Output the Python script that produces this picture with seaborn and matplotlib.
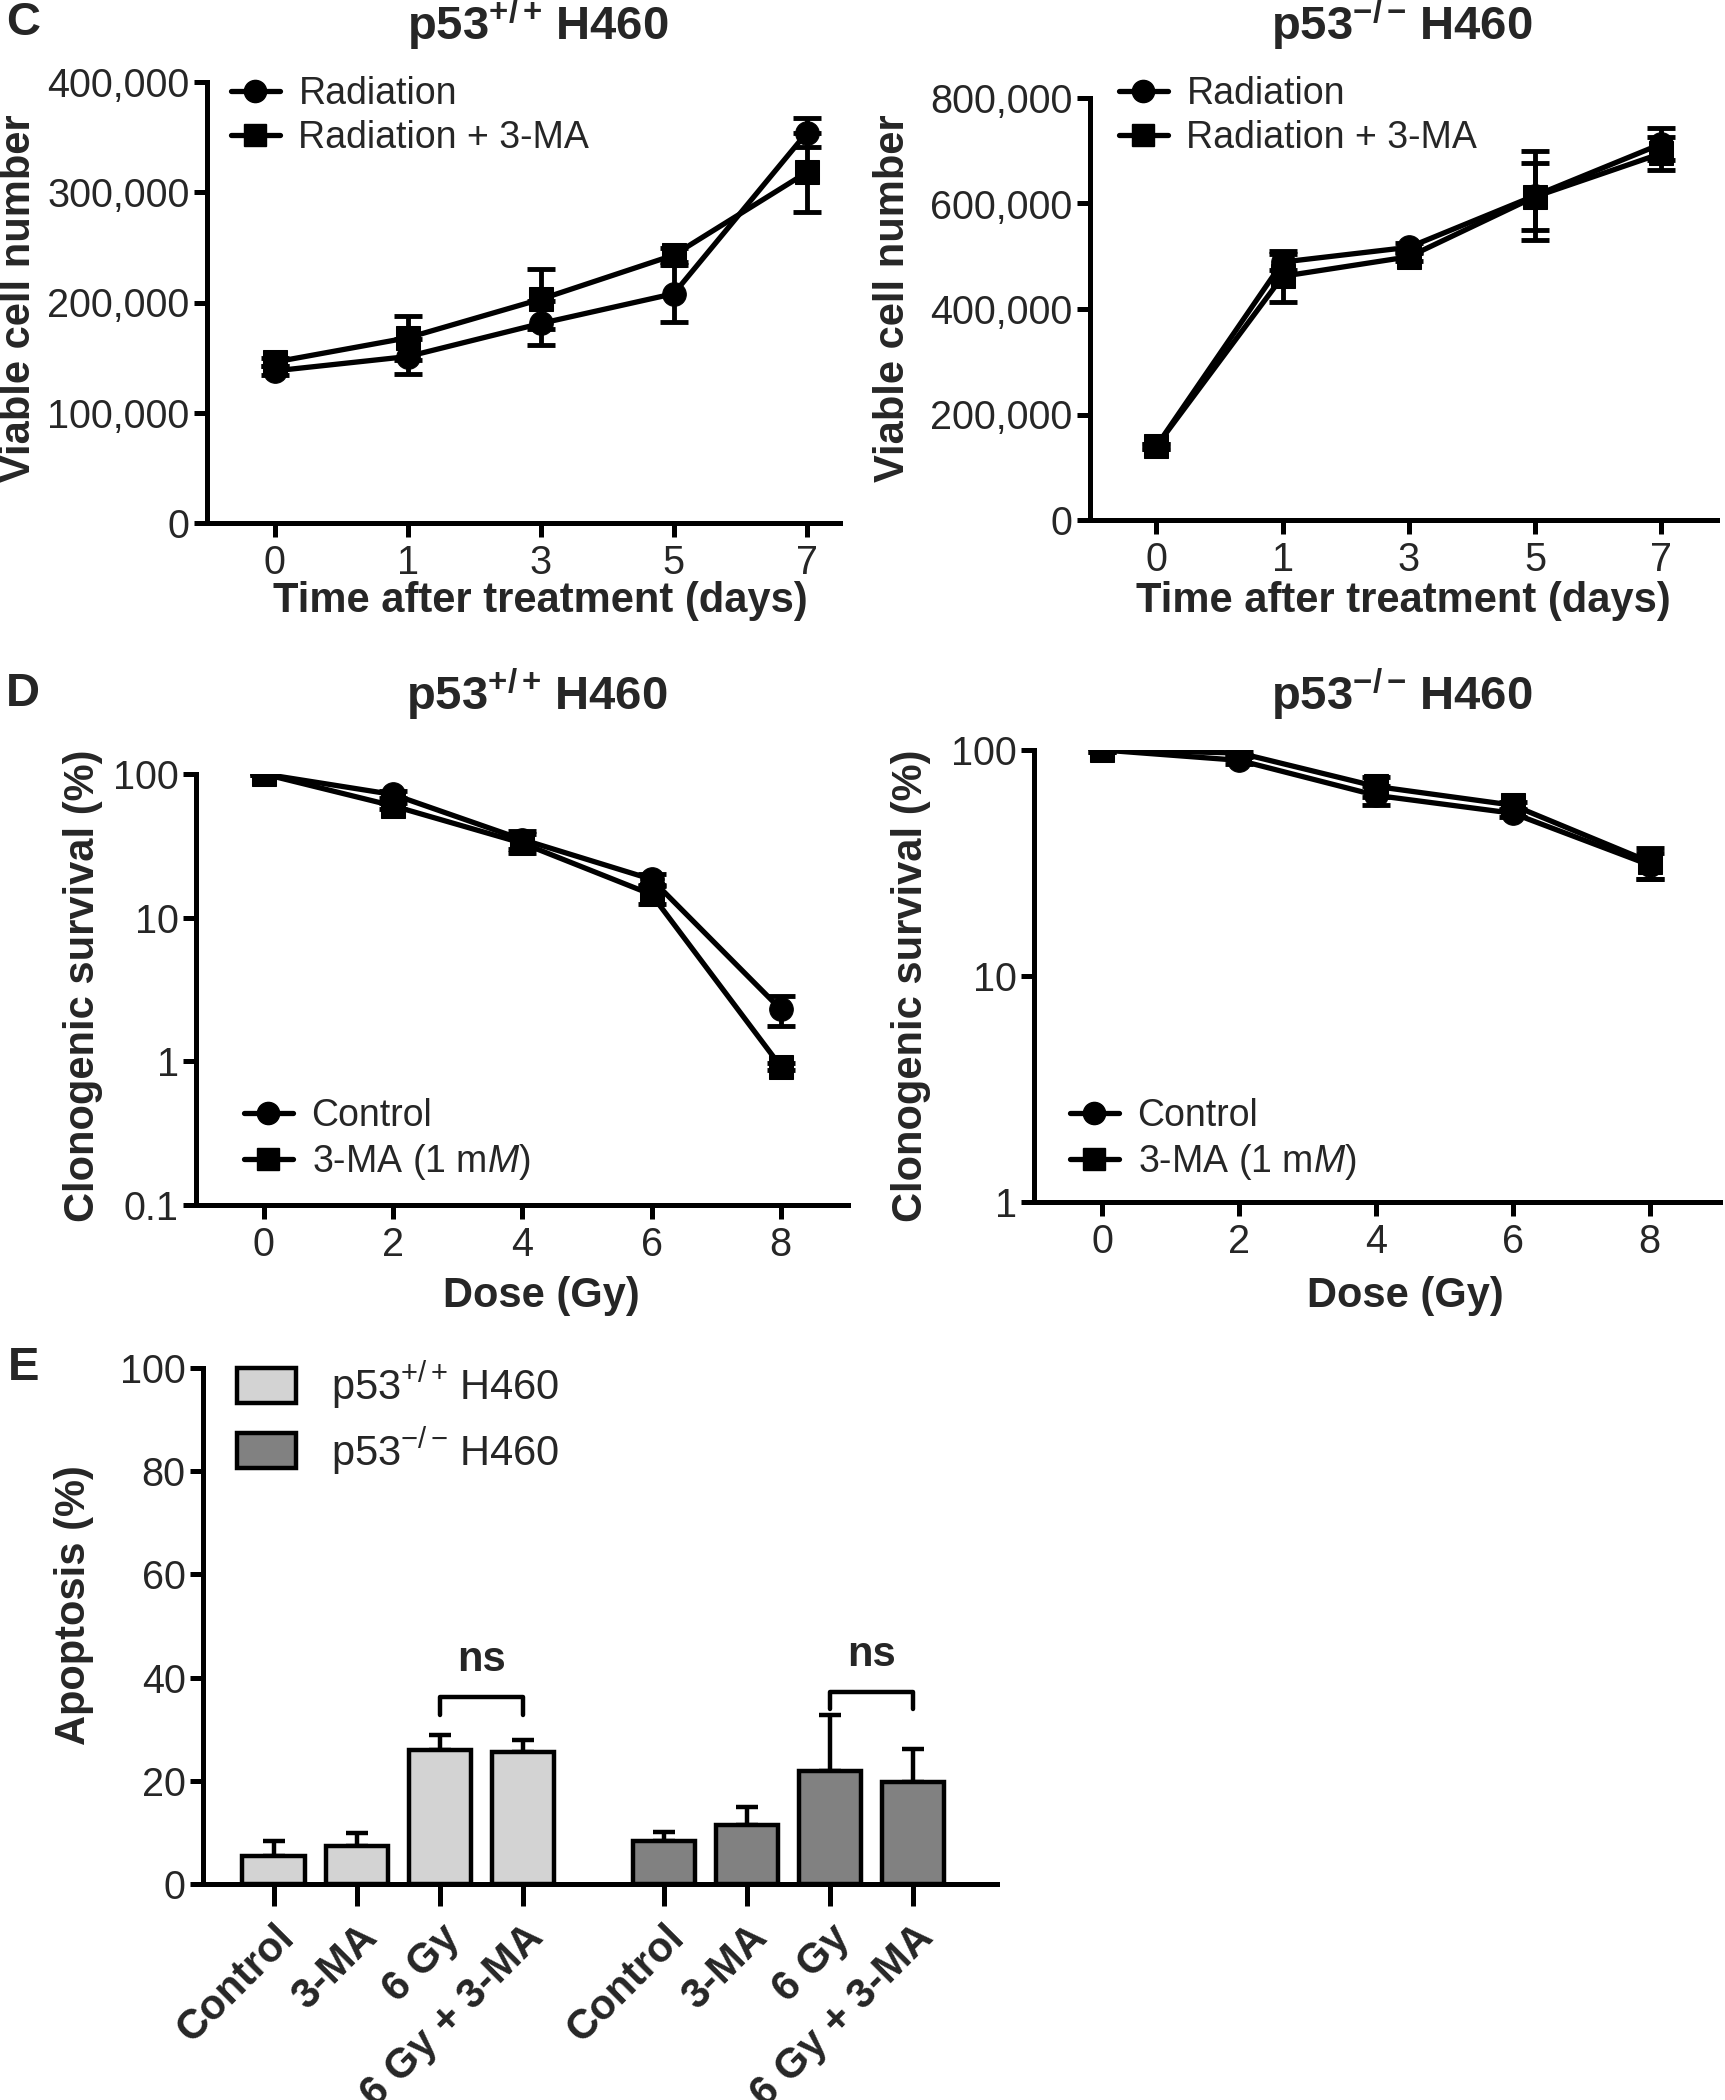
import matplotlib
matplotlib.use("Agg")
import matplotlib.pyplot as plt
from matplotlib.lines import Line2D
from matplotlib.patches import Patch
import pandas as pd
import seaborn as sns

# ── Data ──────────────────────────────────────────────────────────────────────
days = ["0", "1", "3", "5", "7"]
day_pos = [0, 1, 2, 3, 4]

c_wt_rad = [138000, 151000, 181000, 208000, 354000]
c_wt_rad_err = [4000, 16000, 20000, 26000, 13000]
c_wt_3ma = [146000, 168000, 203000, 243000, 318000]
c_wt_3ma_err = [4000, 20000, 27000, 6000, 36000]

c_ko_rad = [140000, 489000, 517000, 615000, 713000]
c_ko_rad_err = [5000, 15000, 8000, 85000, 31000]
c_ko_3ma = [140000, 462000, 499000, 613000, 695000]
c_ko_3ma_err = [5000, 48000, 8000, 63000, 32000]

dose = [0, 2, 4, 6, 8]
d_wt_ctrl = [100, 72, 35, 18.5, 2.3]
d_wt_ctrl_err = [2, 4, 5, 1.5, 0.55]
d_wt_3ma = [100, 60, 33, 14.5, 0.92]
d_wt_3ma_err = [2, 3, 5, 2, 0.05]

d_ko_ctrl = [100, 90, 63, 52.5, 31]
d_ko_ctrl_err = [2, 3, 6, 2, 4]
d_ko_3ma = [100, 97, 69, 57, 32]
d_ko_3ma_err = [2, 2, 7, 2, 5]

treatments = ["Control", "3-MA", "6 Gy", "6 Gy + 3-MA"]
e_wt_pos = [0, 1, 2, 3]
e_ko_pos = [4.7, 5.7, 6.7, 7.7]
e_wt = [5.5, 7.4, 25.9, 25.5]
e_wt_err = [2.9, 2.4, 3.0, 2.5]
e_ko = [8.3, 11.4, 21.9, 19.8]
e_ko_err = [1.7, 3.6, 10.8, 6.3]

# ns brackets: (x1, x2, top, leg bottom)
ns_brackets = [(2, 3, 36.3, 32.8), (6.7, 7.7, 37.3, 34.0)]

WT = r"p53$^{\mathbf{+/+}}\,$H460"
KO = r"p53$^{\mathbf{-/-}}\,$H460"
WT_R = r"p53$^{+/+}\,$H460"
KO_R = r"p53$^{-/-}\,$H460"

# ── Style ─────────────────────────────────────────────────────────────────────
sns.set_style("ticks")
plt.rcParams["font.family"] = ["Liberation Sans", "DejaVu Sans"]
plt.rcParams["mathtext.fontset"] = "custom"
plt.rcParams["mathtext.rm"] = "Liberation Sans"
plt.rcParams["mathtext.it"] = "Liberation Sans:italic"
plt.rcParams["mathtext.bf"] = "Liberation Sans:bold"
BOLD = dict(fontweight="bold")

W, H = 1725, 2100
fig = plt.figure(figsize=(W / 100, H / 100), dpi=100)


def add_ax(l, t, r, b):
    return fig.add_axes([l / W, 1 - b / H, (r - l) / W, (b - t) / H])


def style_ax(ax, xlen=10, ylen=9.5):
    sns.despine(ax=ax)
    for s in ["left", "bottom"]:
        ax.spines[s].set_linewidth(3.6)
        ax.spines[s].set_color("black")
    ax.tick_params(axis="x", length=xlen, width=3.6, labelsize=28.5, pad=5, color="black")
    ax.tick_params(axis="y", length=ylen, width=3.6, labelsize=28.5, pad=3, color="black")
    ax.minorticks_off()
    ax.set_facecolor("none")
    ax.set_xlabel("")
    ax.set_ylabel("")


def draw_series(ax, x, series):
    for y, err, mk in series:
        ax.errorbar(x, y, yerr=err, fmt="none", ecolor="black", elinewidth=3.5,
                    capsize=10, capthick=3.5, zorder=2)
        sns.lineplot(x=x, y=y, marker=mk, markersize=17, color="black", lw=3.8,
                     markeredgecolor="black", ax=ax, legend=False, zorder=3)


def line_legend(ax, labels, x, y):
    handles = [Line2D([0], [0], color="black", lw=3.8, marker=m, markersize=16)
               for m in ["o", "s"]]
    ax.legend(handles, labels, loc="upper left", bbox_to_anchor=(x / W, 1 - y / H),
              bbox_transform=fig.transFigure, frameon=False, fontsize=27,
              handlelength=1.3, handletextpad=0.5, labelspacing=0.22,
              borderpad=0, borderaxespad=0)


# ── Panel C ───────────────────────────────────────────────────────────────────
ax = add_ax(207, 82, 840, 523)
draw_series(ax, day_pos, [(c_wt_rad, c_wt_rad_err, "o"), (c_wt_3ma, c_wt_3ma_err, "s")])
ax.set_xlim(-0.51, 4.25)
ax.set_ylim(0, 400000)
ax.set_xticks(day_pos, days)
ax.set_yticks([0, 100000, 200000, 300000, 400000],
              ["0", "100,000", "200,000", "300,000", "400,000"])
style_ax(ax)
line_legend(ax, ["Radiation", "Radiation + 3-MA"], 231, 76)

ax = add_ax(1090, 98, 1717, 520)
draw_series(ax, day_pos, [(c_ko_rad, c_ko_rad_err, "o"), (c_ko_3ma, c_ko_3ma_err, "s")])
ax.set_xlim(-0.526, 4.44)
ax.set_ylim(0, 800000)
ax.set_xticks(day_pos, days)
ax.set_yticks([0, 200000, 400000, 600000, 800000],
              ["0", "200,000", "400,000", "600,000", "800,000"])
style_ax(ax)
line_legend(ax, ["Radiation", "Radiation + 3-MA"], 1119, 76)

for xc in [540, 1403]:
    fig.text(xc / W, 1 - 601 / H, "Time after treatment (days)", ha="center", va="center",
             fontsize=30, **BOLD)
for xc in [19, 893]:
    fig.text(xc / W, 1 - 298 / H, "Viable cell number", ha="center", va="center",
             rotation=90, fontsize=30, **BOLD)
fig.text(538 / W, 1 - 24 / H, WT, ha="center", va="center", fontsize=34, **BOLD)
fig.text(1402 / W, 1 - 24 / H, KO, ha="center", va="center", fontsize=34, **BOLD)

# ── Panel D ───────────────────────────────────────────────────────────────────
ax = add_ax(196, 774, 848, 1205)
ax.set_yscale("log")
draw_series(ax, dose, [(d_wt_ctrl, d_wt_ctrl_err, "o"), (d_wt_3ma, d_wt_3ma_err, "s")])
ax.set_xlim(-1.05, 9.04)
ax.set_ylim(0.1, 100)
ax.set_xticks(dose, [str(d) for d in dose])
ax.set_yticks([0.1, 1, 10, 100], ["0.1", "1", "10", "100"])
style_ax(ax)
line_legend(ax, ["Control", "3-MA (1 m$\\mathit{M}$)"], 244, 1098)

ax = add_ax(1034, 750, 1720, 1202)
ax.set_yscale("log")
draw_series(ax, dose, [(d_ko_ctrl, d_ko_ctrl_err, "o"), (d_ko_3ma, d_ko_3ma_err, "s")])
ax.set_xlim(-1.0, 9.03)
ax.set_ylim(1, 100)
ax.set_xticks(dose, [str(d) for d in dose])
ax.set_yticks([1, 10, 100], ["1", "10", "100"])
style_ax(ax)
line_legend(ax, ["Control", "3-MA (1 m$\\mathit{M}$)"], 1070, 1098)

for xc in [541, 1405]:
    fig.text(xc / W, 1 - 1296 / H, "Dose (Gy)", ha="center", va="center", fontsize=30, **BOLD)
for xc in [83, 911]:
    fig.text(xc / W, 1 - 986 / H, "Clonogenic survival (%)", ha="center", va="center",
             rotation=90, fontsize=30, **BOLD)
fig.text(537 / W, 1 - 694 / H, WT, ha="center", va="center", fontsize=34, **BOLD)
fig.text(1402 / W, 1 - 694 / H, KO, ha="center", va="center", fontsize=34, **BOLD)

# ── Panel E ───────────────────────────────────────────────────────────────────
ax = add_ax(203, 1368, 997, 1884)
df_e = pd.DataFrame({
    "pos": e_wt_pos + e_ko_pos,
    "val": e_wt + e_ko,
    "line": ["wt"] * 4 + ["ko"] * 4,
})
sns.barplot(data=df_e, x="pos", y="val", hue="line", dodge=False, native_scale=True,
            palette={"wt": "#d3d3d3", "ko": "#818181"}, width=0.75,
            edgecolor="black", linewidth=3.2, legend=False, ax=ax, zorder=2)
for pos, val, err in [(e_wt_pos, e_wt, e_wt_err), (e_ko_pos, e_ko, e_ko_err)]:
    ax.errorbar(pos, val, yerr=[[0] * 4, err], fmt="none", ecolor="black",
                elinewidth=3.2, capsize=8, capthick=3.2, zorder=1)
for x1, x2, top, leg in ns_brackets:
    ax.plot([x1, x1, x2, x2], [leg, top, top, leg], color="black", lw=3.2, zorder=3)
    ax.text((x1 + x2) / 2, top + 3.3, "ns", ha="center", va="bottom", fontsize=30, **BOLD)
ax.set_xlim(-0.85, 8.71)
ax.set_ylim(0, 100)
ax.set_xticks(e_wt_pos + e_ko_pos)
style_ax(ax, xlen=16)
ax.set_xticklabels(treatments * 2, rotation=45, ha="right", rotation_mode="anchor",
                   fontsize=30, **BOLD)
ax.set_yticks([0, 20, 40, 60, 80, 100])
ax.tick_params(axis="x", pad=8)
e_handles = [Patch(facecolor="#d3d3d3", edgecolor="black", lw=3.2),
             Patch(facecolor="#818181", edgecolor="black", lw=3.2)]
ax.legend(e_handles, [WT_R, KO_R], loc="upper left", bbox_to_anchor=(237 / W, 1 - 1360 / H),
          bbox_transform=fig.transFigure, frameon=False, fontsize=30,
          handlelength=1.42, handleheight=0.91, handletextpad=0.84, labelspacing=0.33,
          borderpad=0, borderaxespad=0)
fig.text(74 / W, 1 - 1605 / H, "Apoptosis (%)", ha="center", va="center", rotation=90,
         fontsize=30, **BOLD)

# panel letters
fig.text(6 / W, 1 - 23 / H, "C", ha="left", va="center", fontsize=34, **BOLD)
fig.text(6 / W, 1 - 694 / H, "D", ha="left", va="center", fontsize=34, **BOLD)
fig.text(8 / W, 1 - 1368 / H, "E", ha="left", va="center", fontsize=34, **BOLD)

fig.savefig("out.png", dpi=100, facecolor="white")
